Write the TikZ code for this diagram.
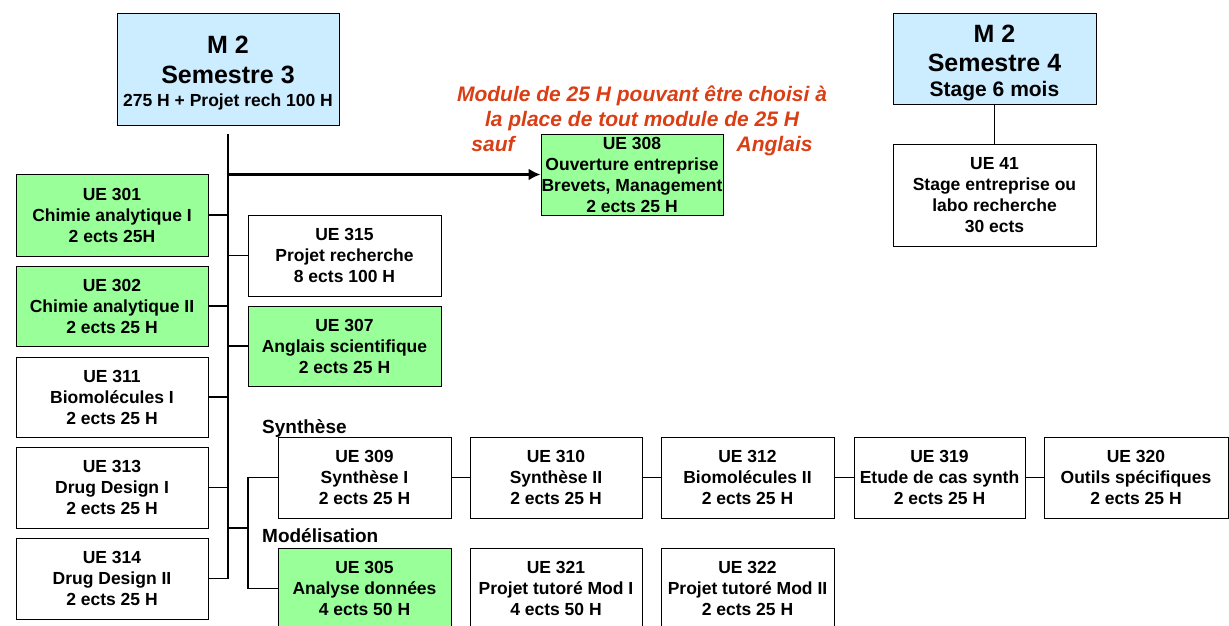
\documentclass[tikz,border=0pt]{standalone}
\usepackage{fontspec}
\setmainfont{Liberation Sans}
\usetikzlibrary{arrows.meta}
\definecolor{hdrblue}{HTML}{CCECFF}
\definecolor{uegreen}{HTML}{99FF99}
\definecolor{notered}{RGB}{218,62,20}
\tikzset{
  uebox/.style={draw, line width=1pt, inner sep=0pt, align=center, font=\bfseries\fontsize{17.5}{21}\selectfont},
  greenbox/.style={uebox, fill=uegreen},
  whitebox/.style={uebox, fill=white},
  hdrbox/.style={draw, line width=1pt, inner sep=0pt, align=center, fill=hdrblue, font=\bfseries\fontsize{25}{29.5}\selectfont},
  conn/.style={line width=1.1pt},
  grplabel/.style={font=\bfseries\fontsize{19}{23}\selectfont, inner sep=0pt, anchor=base west},
  note/.style={text=notered, font=\bfseries\itshape\fontsize{21}{25}\selectfont, align=center, inner sep=0pt},
  bigarrow/.style={line width=2.2pt, -{Latex[length=12pt,width=12pt]}},
}
\begin{document}
\begin{tikzpicture}[x=1pt,y=-1pt]
\useasboundingbox (0,0) rectangle (1229,625);

% headers
\node[hdrbox, minimum width=222pt, minimum height=112pt] (s3) at (228,69)
  {\rule{0pt}{26pt}M 2\\Semestre 3\\[-6.5pt]{\fontsize{17.5}{21}\selectfont 275 H + Projet rech 100 H}};
\node[hdrbox, minimum width=203pt, minimum height=91pt] (s4) at (994.5,58.5)
  {\rule{0pt}{26pt}M 2\\Semestre 4\\[-4.5pt]{\fontsize{21}{25}\selectfont Stage 6 mois}};
\node[whitebox, minimum width=203pt, minimum height=102pt] (u41) at (994.5,195)
  {UE 41\\Stage entreprise ou\\labo recherche\\30 ects};

% note
\node[note] (note) at (642,121)
  {Module de 25 H pouvant être choisi à\\la place de tout module de 25 H\\sauf\hspace{222pt}Anglais};
\node[greenbox, minimum width=182pt, minimum height=81pt] (u308) at (632,174.5)
  {UE 308\\Ouverture entreprise\\Brevets, Management\\2 ects 25 H};

% left column
\node[greenbox, minimum width=192pt, minimum height=82pt] (u301) at (112,215)
  {UE 301\\Chimie analytique I\\2 ects 25H};
\node[greenbox, minimum width=192pt, minimum height=80pt] (u302) at (112,306)
  {UE 302\\Chimie analytique II\\2 ects 25 H};
\node[whitebox, minimum width=192pt, minimum height=80pt] (u311) at (112,397)
  {UE 311\\Biomolécules I\\2 ects 25 H};
\node[whitebox, minimum width=192pt, minimum height=81pt] (u313) at (112,487.5)
  {UE 313\\Drug Design I\\2 ects 25 H};
\node[whitebox, minimum width=192pt, minimum height=81pt] (u314) at (112,578.5)
  {UE 314\\Drug Design II\\2 ects 25 H};

% right of trunk
\node[whitebox, minimum width=193pt, minimum height=81pt] (u315) at (344.5,255.5)
  {UE 315\\Projet recherche\\8 ects 100 H};
\node[greenbox, minimum width=193pt, minimum height=80pt] (u307) at (344.5,346)
  {UE 307\\Anglais scientifique\\2 ects 25 H};

% group labels
\node[grplabel] (lsyn) at (262,433) {Synthèse};
\node[grplabel] (lmod) at (262,542) {Modélisation};

% synthese row
\node[whitebox, minimum width=173pt, minimum height=81pt] (u309) at (364.5,477.5)
  {UE 309\\Synthèse I\\2 ects 25 H};
\node[whitebox, minimum width=172pt, minimum height=81pt] (u310) at (556,477.5)
  {UE 310\\Synthèse II\\2 ects 25 H};
\node[whitebox, minimum width=173pt, minimum height=81pt] (u312) at (747.5,477.5)
  {UE 312\\Biomolécules II\\2 ects 25 H};
\node[whitebox, minimum width=171pt, minimum height=81pt] (u319) at (939.5,477.5)
  {UE 319\\Etude de cas synth\\2 ects 25 H};
\node[whitebox, minimum width=184pt, minimum height=81pt] (u320) at (1136,477.5)
  {UE 320\\Outils spécifiques\\2 ects 25 H};

% modelisation row
\node[greenbox, minimum width=173pt, minimum height=81pt] (u305) at (364.5,588.5)
  {UE 305\\Analyse données\\4 ects 50 H};
\node[whitebox, minimum width=172pt, minimum height=81pt] (u321) at (556,588.5)
  {UE 321\\Projet tutoré Mod I\\4 ects 50 H};
\node[whitebox, minimum width=173pt, minimum height=81pt] (u322) at (747.5,588.5)
  {UE 322\\Projet tutoré Mod II\\2 ects 25 H};

% connectors
\coordinate (ttop) at (228,134);
\coordinate (bk) at (248,528);
\draw[conn] (ttop) |- (u314.east);
\foreach \n in {u301,u302,u311,u313} \draw[conn] (\n.east) -- (\n.east -| ttop);
\foreach \n in {u315,u307} \draw[conn] (\n.west) -- (\n.west -| ttop);
\draw[conn] (bk -| ttop) -- (bk);
\draw[conn] (u309.west) -| (bk) |- (u305.west);
\draw[conn] (u309) -- (u310) (u310) -- (u312) (u312) -- (u319) (u319) -- (u320);
\draw[bigarrow] (ttop |- u308.west) -- (u308.west);
\draw[conn] (s4) -- (u41);
\end{tikzpicture}
\end{document}
